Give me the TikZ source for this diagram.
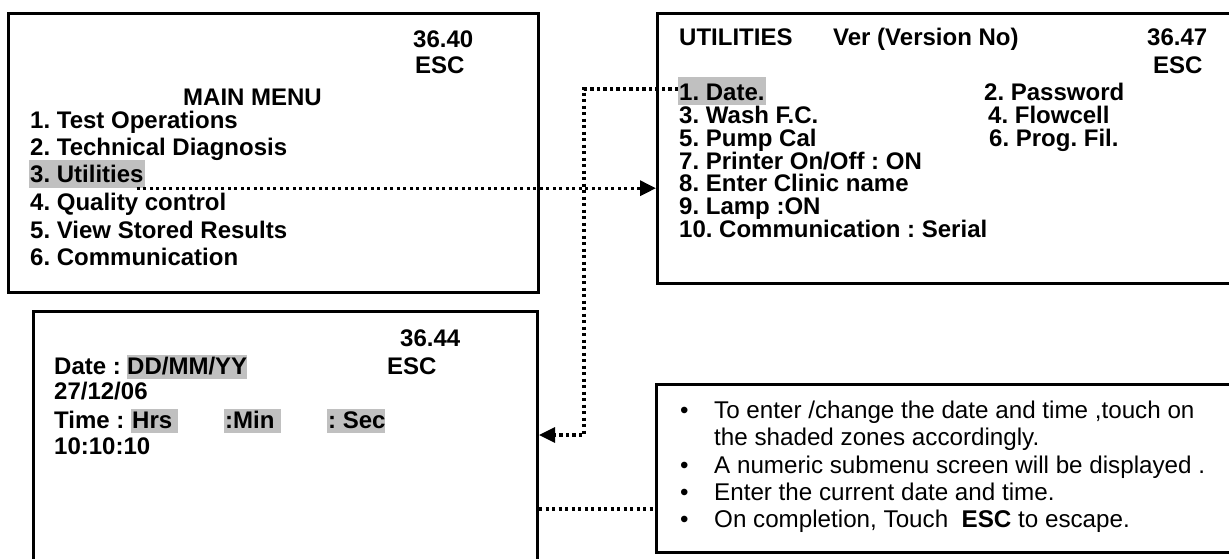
\documentclass[tikz,border=0pt]{standalone}
\usepackage{fontspec}
\setmainfont{Liberation Sans}
\usetikzlibrary{arrows.meta}
\definecolor{hl}{RGB}{192,192,192}
\frenchspacing
\newcommand{\bulletitem}{\makebox[35pt][l]{\hspace{1pt}\textbullet}}
\begin{document}
\begin{tikzpicture}[x=1pt,y=-1pt,
  box/.style={draw, line width=3pt, inner sep=0pt, anchor=north west},
  t/.style={anchor=base west, inner sep=0pt, font=\bfseries\fontsize{24}{27}\selectfont},
  hlt/.style={t, fill=hl, inner xsep=1pt, inner ysep=0pt, text height=22pt, text depth=6pt},
  hlu/.style={t, fill=hl, inner xsep=1pt, inner ysep=0pt, text height=23pt, text depth=5pt},
  hld/.style={t, fill=hl, inner xsep=0pt, inner ysep=0pt, text height=19pt, text depth=5pt},
  nt/.style={anchor=base west, inner sep=0pt, font=\fontsize{24.2}{27}\selectfont},
  conn/.style={line width=3.2pt, dash pattern=on 3.2pt off 3.3pt},
  tip/.style={-{Triangle[length=16pt,width=15pt]}}]
\useasboundingbox (0,0) rectangle (1229,558);
\clip (0,0) rectangle (1229,558);

% boxes
\node[box, minimum width=530pt, minimum height=279pt] (mainbox) at (7,12) {};
\node[box, minimum width=584pt, minimum height=270pt] (utilbox) at (656,12) {};
\node[box, minimum width=504pt, minimum height=260pt] (datebox) at (32,310) {};
\node[box, minimum width=585pt, minimum height=168pt] (notesbox) at (655,383) {};

% main menu
\node[t] (mver) at (413,47) {36.40};
\node[t] (mesc) at (415,73) {ESC};
\node[t] (mtitle) at (183,105) {MAIN MENU};
\node[t] (m1) at (30,128) {1. Test Operations};
\node[t] (m2) at (30,155) {2. Technical Diagnosis};
\node[hlt] (uthl) at (29,182) {3. Utilities};
\node[t] (m4) at (30,210) {4. Quality control};
\node[t] (m5) at (30,238) {5. View Stored Results};
\node[t] (m6) at (30,265) {6. Communication};

% utilities
\node[t] (utitle) at (679,45) {UTILITIES};
\node[t] (uver) at (833,45) {Ver (Version No)};
\node[t] (unum) at (1147,45) {36.47};
\node[t] (uesc) at (1153,73) {ESC};
\node[hlu] (dahl) at (678,100) {1. Date.};
\node[t] (u2) at (984,100) {2. Password};
\node[t] (u3) at (679,123) {3. Wash F.C.};
\node[t] (u4) at (988,123) {4. Flowcell};
\node[t] (u5) at (679,146) {5. Pump Cal};
\node[t] (u6) at (989,146) {6. Prog. Fil.};
\node[t] (u7) at (679,169) {7. Printer On/Off : ON};
\node[t] (u8) at (679,191) {8. Enter Clinic name};
\node[t] (u9) at (679,214) {9. Lamp :ON};
\node[t] (u10) at (679,237) {10. Communication : Serial};

% date screen
\node[t] (dnum) at (400,346) {36.44};
\node[t] (dlab) at (54,374) {Date :};
\node[hld] (dfmt) at (127,374) {DD/MM/YY};
\node[t] (desc) at (387,374) {ESC};
\node[t] (dval) at (54,399) {27/12/06};
\node[t] (tlab) at (54,428) {Time :};
\node[hld] (thrs) at (131,428) {\makebox[47pt][l]{\hspace{1pt}Hrs}};
\node[hld] (tmin) at (224,428) {\makebox[57pt][l]{\hspace{1pt}:Min}};
\node[hld] (tsec) at (327,428) {\makebox[58pt][l]{\hspace{1pt}: Sec}};
\node[t] (tval) at (54,454) {10:10:10};

% notes
\node[nt] (n1) at (679,418) {\bulletitem To enter /change the date and time ,touch on};
\node[nt] (n1b) at (714,445) {the shaded zones accordingly.};
\node[nt] (n2) at (679,473) {\bulletitem A numeric submenu screen will be displayed .};
\node[nt] (n3) at (679,500) {\bulletitem Enter the current date and time.};
\node[nt] (n4) at (679,527) {\bulletitem On completion, Touch~ \textbf{ESC} to escape.};

% connectors
\coordinate (bend) at (584,435);
\coordinate (lk) at (600,509);
\draw[conn, tip] ([xshift=-8pt]uthl.south east) -- (uthl.south east -| utilbox.west);
\draw[conn, tip] ([yshift=2pt]dahl.west) -| (bend) -- (bend -| datebox.east);
\draw[conn] (datebox.east |- lk) -- (notesbox.west |- lk);
\end{tikzpicture}
\end{document}
